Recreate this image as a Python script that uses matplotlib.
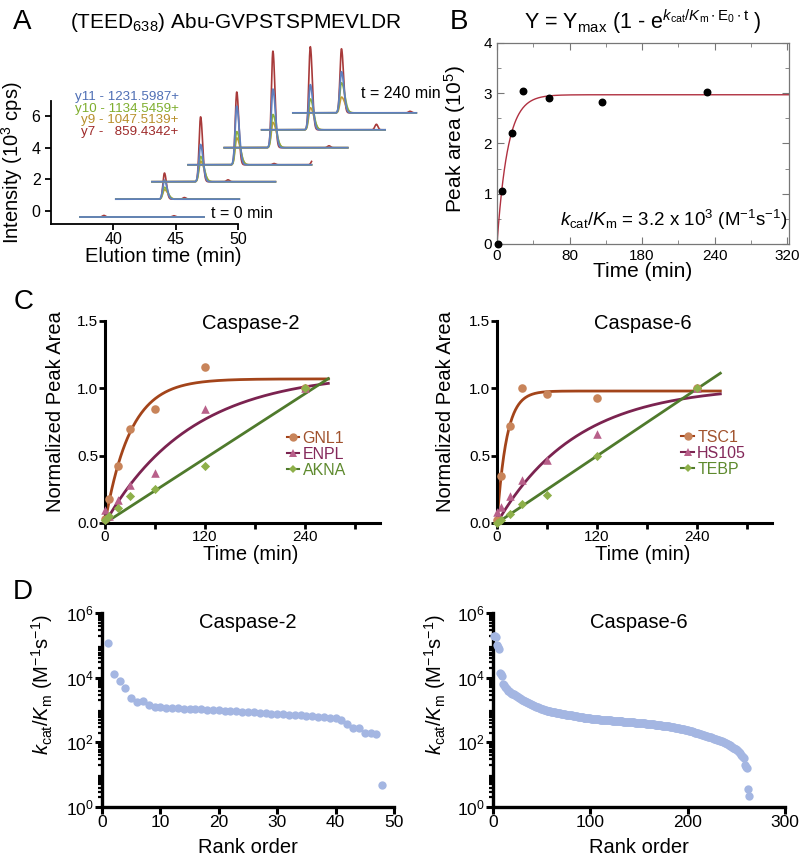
import numpy as np
import matplotlib
matplotlib.use('Agg')
import matplotlib.pyplot as plt
from matplotlib.lines import Line2D
from matplotlib.ticker import FixedLocator, LogLocator, NullFormatter, LogFormatterMathtext

plt.rcParams['font.family'] = ['Liberation Sans', 'DejaVu Sans']
plt.rcParams['mathtext.fontset'] = 'custom'
plt.rcParams['mathtext.rm'] = 'Liberation Sans'
plt.rcParams['mathtext.it'] = 'Liberation Sans:italic'
plt.rcParams['mathtext.bf'] = 'Liberation Sans:bold'

# ---------- panel A: extracted ion chromatograms ----------
ion_labels = ['y11 - 1231.5987+', 'y10 - 1134.5459+', 'y9 - 1047.5139+', 'y7 -   859.4342+']
trace_times = [0, 5, 15, 30, 60, 120, 240]
peak_centers = [41.25, 44.1, 47.0, 49.9, 52.8, 55.8, 58.3]
baselines = [-0.38, 0.75, 1.85, 2.92, 4.0, 5.13, 6.2]
h_y7 = [0, 1.65, 4.1, 4.6, 6.1, 5.25, 4.05]
h_y9 = [0, 0.6, 1.3, 1.7, 1.6, 1.4, 1.0]
h_y10 = [0, 0.75, 1.6, 2.1, 2.1, 1.95, 1.9]
h_y11 = [0, 1.2, 2.35, 3.7, 3.7, 2.85, 2.6]
# small background bumps on the y7 trace: (trace index, offset from peak, height)
bumps = [(0, -2.0, 0.1), (0, 3.6, 0.08), (1, 1.6, 0.1), (2, 2.2, 0.12),
         (3, 3.0, 0.08), (3, 6.1, 0.3), (4, 4.5, 0.12), (5, 5.3, 0.35), (6, 5.5, 0.1)]

# ---------- panel B ----------
b_time = [1, 6, 16, 29, 57, 116, 232]
b_area = [0.0, 1.05, 2.2, 3.05, 2.9, 2.82, 3.03]
b_ymax, b_k = 2.97, 0.085

# ---------- panel C ----------
c_time = [0, 5, 15, 30, 60, 120, 240]
gnl1 = [0.03, 0.18, 0.42, 0.70, 0.85, 1.16, 1.0]
enpl = [0.10, 0.05, 0.17, 0.28, 0.37, 0.85, 1.0]
akna = [0.02, 0.05, 0.11, 0.20, 0.25, 0.42, 1.0]
tsc1 = [0.02, 0.35, 0.72, 1.0, 0.96, 0.93, 1.0]
hs105 = [0.08, 0.12, 0.20, 0.32, 0.47, 0.66, 1.0]
tebp = [0.0, 0.02, 0.07, 0.14, 0.21, 0.50, 1.0]
# fit parameters (ymax, k) for exponential fits, slopes for linear fits
fit_gnl1, fit_enpl, slope_akna = (1.07, 0.033), (1.12, 0.0097), 0.004
fit_tsc1, fit_hs105, slope_tebp = (0.98, 0.088), (1.02, 0.0105), 0.00415

# ---------- panel D (log10 kcat/Km, rank ordered) ----------
casp2_log = [5.06, 4.10, 3.90, 3.69, 3.36, 3.26, 3.28, 3.15, 3.09, 3.08,
             3.07, 3.06, 3.05, 3.04, 3.03, 3.03, 3.02, 3.01, 3.00, 2.99,
             2.98, 2.97, 2.96, 2.95, 2.94, 2.93, 2.92, 2.91, 2.89, 2.88,
             2.87, 2.86, 2.85, 2.83, 2.82, 2.81, 2.79, 2.77, 2.75, 2.74,
             2.69, 2.56, 2.45, 2.43, 2.28, 2.28, 2.25, 0.68]
casp6_log = [5.30, 5.28, 5.25, 5.02, 4.95, 4.88, 4.14, 4.10, 4.05, 3.80,
             3.76, 3.72, 3.68, 3.64, 3.60, 3.58, 3.56, 3.54, 3.53, 3.51,
             3.50, 3.48, 3.46, 3.44, 3.42, 3.40, 3.38, 3.36, 3.34, 3.32,
             3.31, 3.29, 3.28, 3.26, 3.25, 3.23, 3.21, 3.20, 3.18, 3.16,
             3.15, 3.13, 3.12, 3.10, 3.09, 3.08, 3.06, 3.05, 3.04, 3.03,
             3.02, 3.01, 3.00, 2.99, 2.98, 2.98, 2.97, 2.96, 2.96, 2.95,
             2.94, 2.94, 2.93, 2.93, 2.92, 2.91, 2.91, 2.90, 2.90, 2.89,
             2.88, 2.88, 2.87, 2.87, 2.86, 2.86, 2.85, 2.85, 2.84, 2.83,
             2.83, 2.82, 2.82, 2.81, 2.80, 2.80, 2.79, 2.79, 2.78, 2.78,
             2.77, 2.77, 2.76, 2.76, 2.76, 2.75, 2.75, 2.74, 2.74, 2.74,
             2.73, 2.73, 2.73, 2.72, 2.72, 2.72, 2.71, 2.71, 2.71, 2.70,
             2.70, 2.70, 2.70, 2.69, 2.69, 2.69, 2.69, 2.68, 2.68, 2.68,
             2.68, 2.67, 2.67, 2.67, 2.67, 2.66, 2.66, 2.66, 2.66, 2.65,
             2.65, 2.65, 2.65, 2.64, 2.64, 2.64, 2.64, 2.63, 2.63, 2.63,
             2.63, 2.62, 2.62, 2.62, 2.62, 2.61, 2.61, 2.61, 2.61, 2.60,
             2.60, 2.60, 2.59, 2.59, 2.59, 2.59, 2.58, 2.58, 2.58, 2.57,
             2.57, 2.57, 2.56, 2.56, 2.56, 2.55, 2.55, 2.55, 2.54, 2.54,
             2.53, 2.53, 2.53, 2.52, 2.52, 2.51, 2.51, 2.50, 2.50, 2.49,
             2.49, 2.48, 2.48, 2.47, 2.47, 2.46, 2.45, 2.45, 2.44, 2.44,
             2.43, 2.42, 2.42, 2.41, 2.40, 2.40, 2.39, 2.38, 2.38, 2.37,
             2.36, 2.35, 2.35, 2.34, 2.33, 2.32, 2.31, 2.30, 2.30, 2.29,
             2.28, 2.27, 2.26, 2.25, 2.24, 2.23, 2.22, 2.21, 2.20, 2.19,
             2.18, 2.17, 2.16, 2.15, 2.14, 2.12, 2.11, 2.10, 2.09, 2.08,
             2.07, 2.06, 2.05, 2.04, 2.03, 2.01, 2.00, 1.99, 1.97, 1.96,
             1.95, 1.93, 1.92, 1.90, 1.88, 1.86, 1.84, 1.82, 1.80, 1.78,
             1.76, 1.73, 1.70, 1.66, 1.62, 1.58, 1.55, 1.52, 1.30, 1.25,
             1.20, 0.55, 0.34]

W, H = 800, 860
fig = plt.figure(figsize=(8, 8.6), dpi=100)


def px_axes(left, top, right, bottom):
    return fig.add_axes([left / W, 1 - bottom / H, (right - left) / W, (bottom - top) / H])


def peak(x, c, h, sl, sr):
    s = np.where(x < c, sl, sr)
    return h * np.exp(-0.5 * ((x - c) / s) ** 2)


# ================= A =================
axA = px_axes(51, 101, 238, 224)
col_red, col_tan, col_green, col_blue = '#a83a3a', '#c49a36', '#8db33a', '#5f80bf'
for k in range(len(trace_times)):
    c = peak_centers[k]
    x = np.linspace(c - 3.9, c + 6.0, 800)
    base = baselines[k]
    yr = base + peak(x, c, h_y7[k], 0.12, 0.16)
    for ti, off, hb in bumps:
        if ti == k:
            yr = yr + peak(x, c + off, hb, 0.12, 0.12)
    axA.plot(x, yr, color=col_red, lw=1.2, clip_on=False)
    axA.plot(x, base + peak(x, c, h_y9[k], 0.13, 0.28), color=col_tan, lw=1.2, clip_on=False)
    axA.plot(x, base + peak(x, c, h_y10[k], 0.13, 0.26), color=col_green, lw=1.2, clip_on=False)
    axA.plot(x, base + peak(x, c, h_y11[k], 0.13, 0.2), color=col_blue, lw=1.3, clip_on=False)
axA.set_xlim(35, 50)
axA.set_ylim(-0.82, 6.95)
axA.set_xticks([40, 45, 50])
axA.set_yticks([0, 2, 4, 6])
for s in ['top', 'right']:
    axA.spines[s].set_visible(False)
for s in ['left', 'bottom']:
    axA.spines[s].set_linewidth(1.3)
axA.tick_params(labelsize=11.5, width=1.3, length=4)
axA.tick_params(axis='x', pad=2)
axA.set_xlabel('Elution time (min)', fontsize=14.5)
axA.set_ylabel('Intensity (10$^3$ cps)', fontsize=14.5)
axA.xaxis.set_label_coords(0.6, -0.19)
axA.yaxis.set_label_coords(-0.14, 0.5)
for lab, col, yy in zip(ion_labels, ['#4f6fb5', '#7fae2e', '#b8902c', '#9e2a2a'],
                        [7.2, 6.47, 5.75, 5.02]):
    axA.text(45.24, yy, lab, color=col, fontsize=9.6, ha='right', va='center', clip_on=False)
axA.text(47.8, -0.13, 't = 0 min', fontsize=11.5, va='center')
axA.text(59.9, 7.4, 't = 240 min', fontsize=11.5, va='center', clip_on=False)
fig.text(70 / W, 1 - 22 / H, '(TEED$_{638}$) Abu-GVPSTSPMEVLDR', fontsize=15, va='center')

# ================= B =================
axB = px_axes(497, 43, 789, 244)
tt = np.linspace(0, 322, 600)
axB.plot(tt, b_ymax * (1 - np.exp(-b_k * tt)), color='#b03040', lw=1.0)
axB.scatter(b_time, b_area, s=22, color='black', zorder=3, clip_on=False)
axB.set_xlim(0, 322)
axB.set_ylim(0, 4)
axB.set_xticks([0, 80, 160, 240, 320])
axB.set_xticklabels(['0', '80', '180', '240', '320'])
axB.xaxis.set_minor_locator(FixedLocator([40, 120, 200, 280]))
axB.set_yticks([0, 1, 2, 3, 4])
axB.yaxis.set_minor_locator(FixedLocator([0.5, 1.5, 2.5, 3.5]))
for s in axB.spines.values():
    s.set_color('#777777')
    s.set_linewidth(0.9)
axB.tick_params(which='both', direction='in', top=True, right=True, color='#777777', labelsize=11)
axB.tick_params(which='major', length=5)
axB.tick_params(which='minor', length=3)
axB.set_xlabel('Time (min)', fontsize=15)
axB.set_ylabel('Peak area (10$^5$)', fontsize=15)
axB.xaxis.set_label_coords(0.5, -0.09)
axB.yaxis.set_label_coords(-0.1, 0.52)
axB.text(0.993, 0.12, r'$k_{\rm cat}/K_{\rm m}$ = 3.2 x 10$^3$ (M$^{-1}$s$^{-1}$)',
         transform=axB.transAxes, ha='right', va='center', fontsize=13.5)
axB.text(0.5, 1.105, r'Y = Y$_{\rm max}$ (1 - e$^{k_{\rm cat}/K_{\rm m}\bullet{\rm E}_0\bullet{\rm t}}$ )',
         transform=axB.transAxes, ha='center', va='center', fontsize=15.5)


# ================= C =================
def panel_c(ax, title, names, ys, fits, slope, xmax_fit, leg_xy, ylab_x):
    mcols = ['#c8845a', '#b8608a', '#8eb04a']
    lcols = ['#a3441a', '#7b2350', '#4f7a2c']
    tcols = ['#a0522d', '#84285a', '#5e8a2e']
    markers = ['o', '^', 'D']
    msizes = [38, 38, 22]
    tf = np.linspace(0, xmax_fit, 400)
    curves = [fits[0][0] * (1 - np.exp(-fits[0][1] * tf)),
              fits[1][0] * (1 - np.exp(-fits[1][1] * tf)),
              slope * tf]
    handles = []
    for i in range(3):
        ax.plot(tf, curves[i], color=lcols[i], lw=2.0, zorder=2)
        ax.scatter(c_time, ys[i], s=msizes[i], marker=markers[i], color=mcols[i],
                   zorder=3, clip_on=False, linewidths=0)
        handles.append(Line2D([0], [0], color=lcols[i], lw=1.5, marker=markers[i],
                              markersize=6 if i < 2 else 4.5, markerfacecolor=mcols[i],
                              markeredgewidth=0))
    leg = ax.legend(handles, names, loc='upper left', bbox_to_anchor=leg_xy, frameon=False,
                    fontsize=11.5, handlelength=0.8, handletextpad=0.2, labelspacing=0.05,
                    borderpad=0, borderaxespad=0)
    for t, c in zip(leg.get_texts(), tcols):
        t.set_color(c)
    ax.set_xlim(0, 330)
    ax.set_ylim(0, 1.5)
    ax.set_xticks([0, 120, 240])
    ax.xaxis.set_minor_locator(FixedLocator([60, 180, 300]))
    ax.set_yticks([0, 0.5, 1.0, 1.5])
    ax.set_yticklabels(['0.0', '0.5', '1.0', '1.5'])
    for s in ['top', 'right']:
        ax.spines[s].set_visible(False)
    for s in ['left', 'bottom']:
        ax.spines[s].set_linewidth(2.2)
    ax.tick_params(which='both', width=2.0, length=4, labelsize=11)
    ax.tick_params(axis='y', pad=1)
    ax.tick_params(axis='x', pad=1)
    ax.set_xlabel('Time (min)', fontsize=14.5)
    ax.set_ylabel('Normalized Peak Area', fontsize=14.5)
    ax.xaxis.set_label_coords(0.53, -0.11)
    ax.yaxis.set_label_coords(ylab_x, 0.55)
    ax.text(0.53, 0.99, title, transform=ax.transAxes, ha='center', va='center', fontsize=14.5)


axC2 = px_axes(105, 321, 380, 523)
panel_c(axC2, 'Caspase-2', ['GNL1', 'ENPL', 'AKNA'], [gnl1, enpl, akna],
        [fit_gnl1, fit_enpl], slope_akna, 268, (0.66, 0.455), -0.145)
axC6 = px_axes(497, 321, 772, 523)
panel_c(axC6, 'Caspase-6', ['TSC1', 'HS105', 'TEBP'], [tsc1, hs105, tebp],
        [fit_tsc1, fit_hs105], slope_tebp, 268, (0.67, 0.46), -0.153)


# ================= D =================
def panel_d(ax, title, logs, xmax, xticks, ylab_x):
    vals = 10 ** np.array(logs)
    ranks = np.arange(1, len(vals) + 1)
    ax.scatter(ranks, vals, s=36, color='#a4b6e2', linewidths=0, clip_on=False, zorder=3)
    ax.set_yscale('log')
    ax.set_ylim(1, 1e6)
    ax.set_xlim(0, xmax)
    ax.set_xticks(xticks)
    ax.yaxis.set_major_locator(FixedLocator([1, 1e2, 1e4, 1e6]))
    ax.yaxis.set_major_formatter(LogFormatterMathtext())
    ax.yaxis.set_minor_locator(LogLocator(base=10, subs=np.arange(2, 10), numticks=20))
    ax.yaxis.set_minor_formatter(NullFormatter())
    for s in ['top', 'right']:
        ax.spines[s].set_visible(False)
    for s in ['left', 'bottom']:
        ax.spines[s].set_linewidth(2.4)
    ax.tick_params(which='major', width=2.2, length=5, labelsize=12.5, pad=1)
    ax.tick_params(which='minor', width=1.6, length=3)
    ax.set_xlabel('Rank order', fontsize=14.5)
    ax.set_ylabel(r'$k_{\rm cat}/K_{\rm m}$ (M$^{-1}$s$^{-1}$)', fontsize=14.5)
    ax.xaxis.set_label_coords(0.5, -0.16)
    ax.yaxis.set_label_coords(ylab_x, 0.63)
    ax.text(0.5, 0.95, title, transform=ax.transAxes, ha='center', va='center', fontsize=14.5)


axD2 = px_axes(102, 613, 394, 807)
panel_d(axD2, 'Caspase-2', casp2_log, 50, [0, 10, 20, 30, 40, 50], -0.16)
axD6 = px_axes(493, 613, 785, 807)
panel_d(axD6, 'Caspase-6', casp6_log, 300, [0, 100, 200, 300], -0.154)

# panel letters
for lab, x, y in [('A', 22, 22), ('B', 459, 22), ('C', 24, 302), ('D', 23, 592)]:
    fig.text(x / W, 1 - y / H, lab, fontsize=20, ha='center', va='center')

fig.savefig('out.png', dpi=100)
